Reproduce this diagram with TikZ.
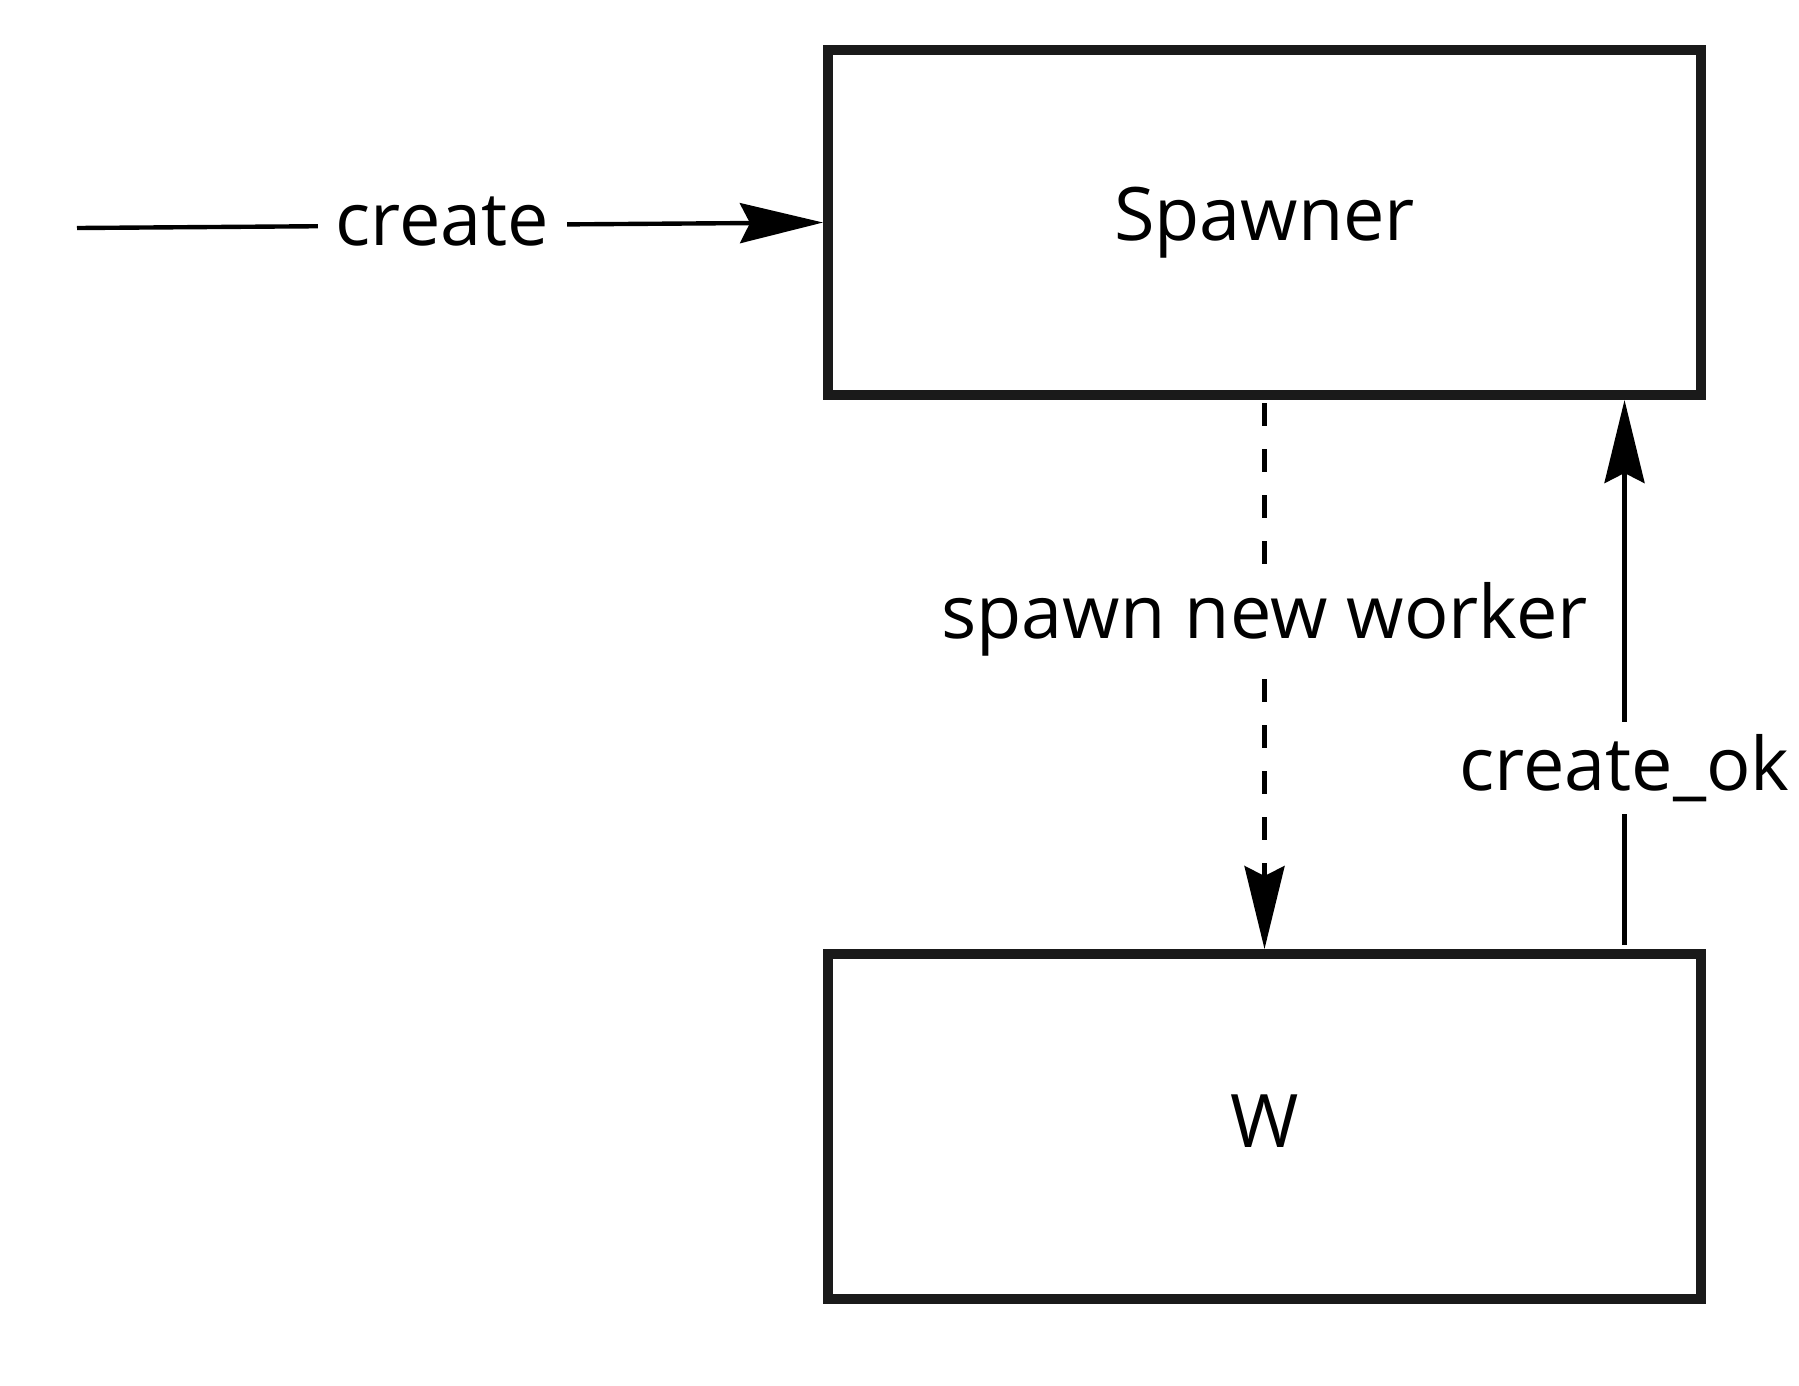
\documentclass[tikz,border=0pt]{standalone}
\usepackage{fontspec}
\setmainfont{Open Sans}
\usepackage{tikz}
\usetikzlibrary{arrows.meta,positioning}
\definecolor{boxline}{HTML}{1A1A1A}

\begin{document}
\begin{tikzpicture}[
  node distance=5.49cm,
  font=\fontsize{21}{25}\selectfont,
  box/.style={draw=boxline,line width=2.85pt,minimum width=8.73cm,minimum height=3.45cm,inner sep=0pt},
  msg/.style={fill=white,inner sep=0.18cm},
  arrow/.style={-{Stealth[length=0.83cm,width=0.40cm,inset=0.1cm]},line width=1.25pt}
]
\useasboundingbox (0,0) rectangle (17.99,-13.85);
\node[box] (spawner) at (12.645,-2.225) {Spawner};
\node[box,below=of spawner] (w) {\raisebox{0.1cm}{W}};
\coordinate (in) at (0.77,-2.28);
\draw[arrow] (in) -- node[msg,pos=0.49,yshift=0.04cm] {create} (spawner.west);
\draw[arrow,dash pattern=on 0.23cm off 0.23cm,shorten <=0.03cm] (spawner.south) -- node[msg,pos=0.40] {spawn new worker} (w.north);
\draw[arrow,shorten <=0.04cm] ([xshift=3.6cm]w.north) -- node[msg,pos=0.33,inner sep=0.12cm] {create\_ok} ([xshift=3.6cm]spawner.south);
\end{tikzpicture}
\end{document}
